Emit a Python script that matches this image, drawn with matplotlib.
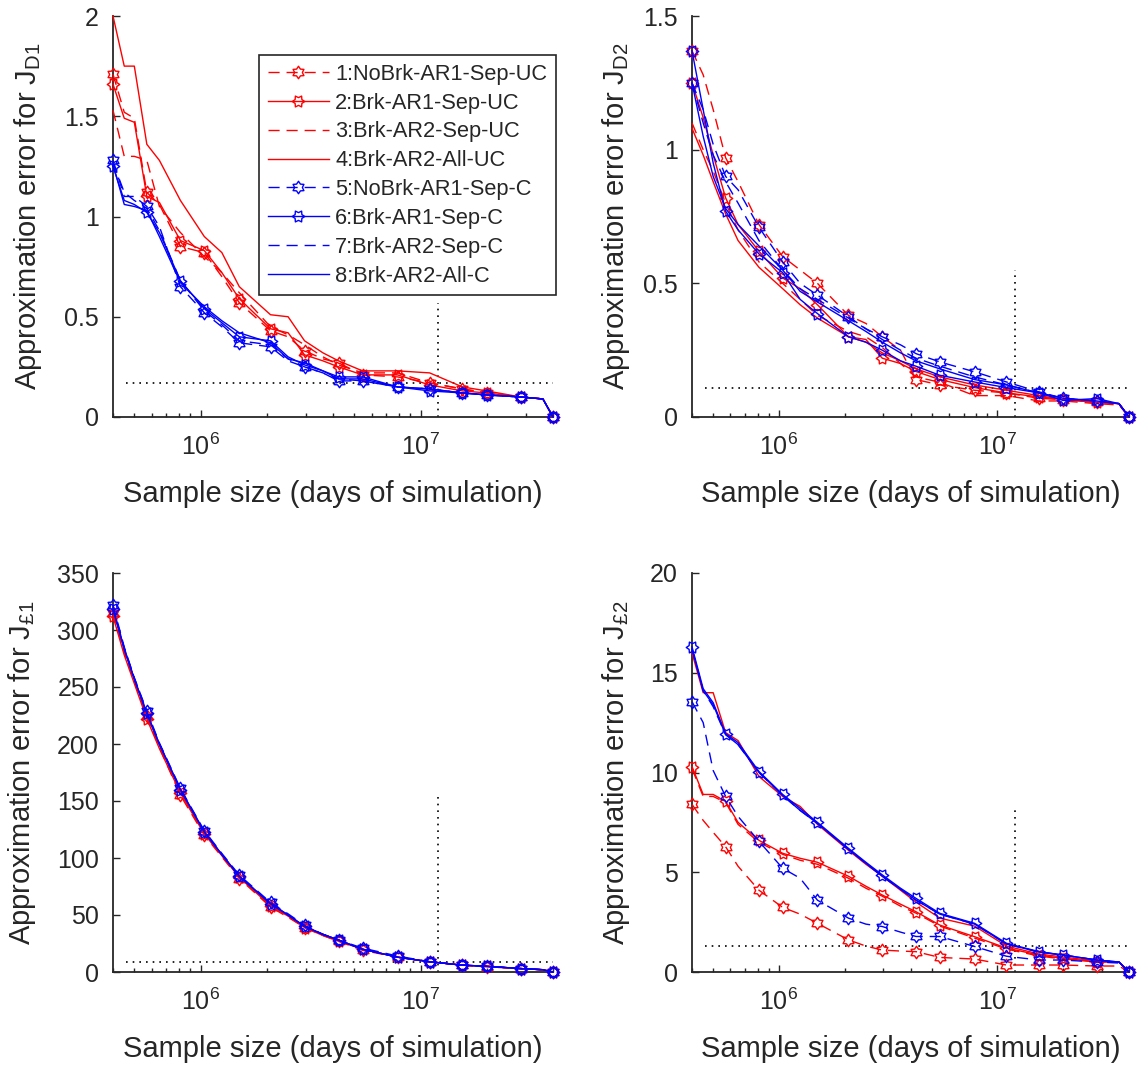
import math

import matplotlib

matplotlib.use("Agg")
import matplotlib.pyplot as plt
from matplotlib.path import Path
from matplotlib.ticker import FixedLocator, FuncFormatter, NullFormatter

plt.rcParams["font.family"] = ["Liberation Sans", "DejaVu Sans"]
plt.rcParams["mathtext.fontset"] = "custom"
plt.rcParams["mathtext.rm"] = "Liberation Sans"
plt.rcParams["mathtext.it"] = "Liberation Sans"
plt.rcParams["mathtext.default"] = "regular"

# --- data -------------------------------------------------------------------
# sample sizes (days of simulation), shared by every series
sample_days = [4.0e5, 4.5e5, 5.0e5, 5.7e5, 6.5e5, 8.1e5, 1.04e6, 1.25e6, 1.5e6, 2.08e6, 2.5e6,
               2.97e6, 3.6e6, 4.24e6, 5.45e6, 7.86e6, 1.1e7, 1.55e7, 2.0e7, 2.85e7, 3.6e7, 4.0e7]
marker_idx = [0, 3, 5, 6, 8, 9, 11, 13, 14, 15, 16, 17, 18, 19, 21]

series_names = ["1:NoBrk-AR1-Sep-UC", "2:Brk-AR1-Sep-UC", "3:Brk-AR2-Sep-UC", "4:Brk-AR2-All-UC",
                "5:NoBrk-AR1-Sep-C", "6:Brk-AR1-Sep-C", "7:Brk-AR2-Sep-C", "8:Brk-AR2-All-C"]

err_jd1 = [
    [1.71, 1.52, 1.49, 1.12, 1.06, 0.85, 0.82, 0.70, 0.57, 0.43, 0.40, 0.33, 0.29, 0.27, 0.21, 0.20, 0.17, 0.14, 0.12, 0.10, 0.09, 0],
    [1.66, 1.49, 1.47, 1.10, 1.07, 0.88, 0.83, 0.72, 0.59, 0.44, 0.42, 0.31, 0.28, 0.25, 0.21, 0.21, 0.16, 0.13, 0.12, 0.10, 0.09, 0],
    [1.53, 1.30, 1.30, 1.28, 1.05, 0.92, 0.80, 0.72, 0.62, 0.45, 0.41, 0.36, 0.30, 0.26, 0.22, 0.22, 0.17, 0.14, 0.12, 0.10, 0.09, 0],
    [2.00, 1.75, 1.75, 1.36, 1.28, 1.08, 0.90, 0.82, 0.65, 0.51, 0.50, 0.38, 0.32, 0.28, 0.23, 0.23, 0.22, 0.15, 0.13, 0.10, 0.09, 0],
    [1.28, 1.10, 1.10, 1.05, 0.95, 0.65, 0.52, 0.45, 0.37, 0.35, 0.28, 0.25, 0.22, 0.18, 0.18, 0.15, 0.14, 0.12, 0.11, 0.10, 0.09, 0],
    [1.25, 1.08, 1.06, 1.02, 0.92, 0.68, 0.54, 0.47, 0.40, 0.38, 0.30, 0.26, 0.23, 0.20, 0.20, 0.15, 0.13, 0.12, 0.11, 0.10, 0.09, 0],
    [1.27, 1.12, 1.08, 1.04, 0.93, 0.68, 0.53, 0.46, 0.38, 0.36, 0.29, 0.25, 0.22, 0.19, 0.18, 0.15, 0.14, 0.12, 0.11, 0.10, 0.09, 0],
    [1.26, 1.06, 1.05, 1.03, 0.90, 0.67, 0.55, 0.48, 0.42, 0.37, 0.29, 0.27, 0.23, 0.19, 0.19, 0.15, 0.14, 0.12, 0.11, 0.10, 0.09, 0],
]
err_jd2 = [
    [1.37, 1.28, 1.15, 0.97, 0.88, 0.72, 0.60, 0.55, 0.50, 0.38, 0.35, 0.30, 0.25, 0.14, 0.12, 0.10, 0.09, 0.07, 0.065, 0.055, 0.05, 0],
    [1.25, 1.12, 0.98, 0.82, 0.72, 0.62, 0.52, 0.48, 0.42, 0.30, 0.29, 0.22, 0.20, 0.17, 0.14, 0.11, 0.09, 0.075, 0.065, 0.055, 0.05, 0],
    [1.10, 1.00, 0.92, 0.80, 0.70, 0.58, 0.50, 0.44, 0.38, 0.32, 0.30, 0.26, 0.20, 0.15, 0.13, 0.08, 0.08, 0.06, 0.06, 0.05, 0.045, 0],
    [1.08, 0.98, 0.88, 0.76, 0.66, 0.56, 0.48, 0.42, 0.37, 0.30, 0.28, 0.24, 0.21, 0.18, 0.15, 0.12, 0.10, 0.08, 0.065, 0.055, 0.05, 0],
    [1.25, 1.15, 1.02, 0.90, 0.85, 0.71, 0.58, 0.50, 0.456, 0.375, 0.33, 0.30, 0.27, 0.237, 0.206, 0.169, 0.131, 0.094, 0.07, 0.06, 0.05, 0],
    [1.37, 1.15, 0.95, 0.77, 0.70, 0.61, 0.54, 0.44, 0.387, 0.30, 0.28, 0.25, 0.21, 0.19, 0.156, 0.131, 0.11, 0.09, 0.062, 0.069, 0.05, 0],
    [1.25, 1.10, 0.98, 0.88, 0.80, 0.66, 0.55, 0.48, 0.44, 0.37, 0.33, 0.29, 0.25, 0.22, 0.19, 0.15, 0.12, 0.09, 0.07, 0.06, 0.05, 0],
    [1.25, 1.05, 0.90, 0.78, 0.72, 0.64, 0.55, 0.47, 0.43, 0.36, 0.32, 0.28, 0.24, 0.21, 0.18, 0.14, 0.12, 0.09, 0.07, 0.06, 0.05, 0],
]
err_jl1 = [
    [315, 280, 255, 225, 197, 155, 120, 101, 82, 57, 48, 39, 32, 27, 19, 13, 9, 6, 4.5, 3, 2, 0],
    [312, 278, 253, 222, 196, 157, 121, 102, 83, 58, 49, 39, 32, 27, 20, 13, 9, 6, 5, 3, 2, 0],
    [316, 282, 256, 224, 198, 158, 122, 102, 83, 59, 49, 40, 33, 28, 20, 13, 9, 6, 5, 3, 2, 0],
    [318, 283, 257, 226, 199, 159, 122, 103, 84, 59, 50, 40, 33, 28, 20, 13, 9, 6, 5, 3, 2, 0],
    [322, 285, 258, 229, 201, 161, 124, 104, 85, 61, 51, 41, 33, 28, 21, 14, 9, 6, 5, 3, 2, 0],
    [318, 284, 257, 227, 200, 160, 123, 103, 84, 60, 50, 40, 33, 28, 20, 13, 9, 6, 5, 3, 2, 0],
    [320, 284, 258, 228, 200, 160, 123, 103, 84, 60, 50, 40, 33, 28, 20, 13, 9, 6, 5, 3, 2, 0],
    [319, 283, 257, 227, 200, 160, 123, 103, 84, 60, 50, 40, 33, 28, 20, 13, 9, 6, 5, 3, 2, 0],
]
err_jl2 = [
    [8.4, 7.6, 7.0, 6.28, 5.3, 4.1, 3.24, 2.9, 2.44, 1.61, 1.3, 1.1, 1.05, 1.02, 0.73, 0.65, 0.35, 0.35, 0.35, 0.3, 0.3, 0],
    [10.3, 8.9, 8.9, 8.55, 7.5, 6.6, 5.95, 5.7, 5.5, 4.8, 4.3, 3.86, 3.4, 3.02, 2.35, 1.77, 1.2, 0.85, 0.68, 0.52, 0.5, 0],
    [10.2, 8.8, 8.8, 8.5, 7.4, 6.5, 5.9, 5.6, 5.4, 4.7, 4.2, 3.8, 3.3, 2.95, 2.3, 1.7, 1.15, 0.8, 0.65, 0.5, 0.5, 0],
    [16.0, 14.0, 14.0, 12.0, 11.6, 9.8, 8.8, 8.3, 7.4, 6.1, 5.4, 4.8, 4.1, 3.5, 2.7, 2.3, 1.3, 0.9, 0.75, 0.55, 0.5, 0],
    [13.55, 12.5, 10.1, 8.8, 7.8, 6.55, 5.2, 4.7, 3.6, 2.7, 2.4, 2.28, 2.0, 1.78, 1.78, 1.28, 0.79, 0.6, 0.6, 0.5, 0.45, 0],
    [16.3, 14.2, 13.5, 11.95, 11.5, 10.05, 8.9, 8.2, 7.5, 6.2, 5.5, 4.87, 4.2, 3.69, 2.94, 2.44, 1.44, 1.02, 0.85, 0.60, 0.5, 0],
    [16.2, 14.1, 13.3, 11.9, 11.4, 10.0, 8.85, 8.1, 7.45, 6.15, 5.45, 4.8, 4.15, 3.6, 2.9, 2.4, 1.4, 1.0, 0.85, 0.6, 0.5, 0],
    [16.2, 14.1, 13.4, 11.9, 11.4, 10.0, 8.85, 8.1, 7.45, 6.15, 5.45, 4.8, 4.15, 3.6, 2.9, 2.4, 1.4, 1.0, 0.85, 0.6, 0.5, 0],
]

panel_data = [err_jd1, err_jd2, err_jl1, err_jl2]
ylabels = [r"Approximation error for J$_{D1}$", r"Approximation error for J$_{D2}$",
           r"Approximation error for J$_{£1}$", r"Approximation error for J$_{£2}$"]
yticks = [[0, 0.5, 1, 1.5, 2], [0, 0.5, 1, 1.5], [0, 50, 100, 150, 200, 250, 300, 350], [0, 5, 10, 15, 20]]
ylims = [2, 1.5, 350, 20]
# dotted guide lines: horizontal level, sample size of the vertical line, top of the vertical line
guide_h = [0.17, 0.11, 9, 1.3]
guide_x = [1.2e7, 1.2e7, 1.2e7, 1.2e7]
guide_vtop = [0.57, 0.55, 155, 8.1]


def hexagram(rot_deg):
    """Six-pointed star (MATLAB 'hexagram') as a closed marker path."""
    pts = []
    for i in range(12):
        a = math.radians(90 + rot_deg + 30 * i)
        r = 1.0 if i % 2 == 0 else 0.62
        pts.append((r * math.cos(a), r * math.sin(a)))
    pts.append(pts[0])
    codes = [Path.MOVETO] + [Path.LINETO] * 11 + [Path.CLOSEPOLY]
    return Path(pts, codes)


# --- styles -------------------------------------------------------------------
colors = ["red"] * 4 + ["blue"] * 4
dash = (0, (8, 5))
styles = [dash, "-", dash, "-"] * 2
markers = [hexagram(0), hexagram(90), None, None] * 2
ink = "#262626"

W, H = 1145, 1080
fig = plt.figure(figsize=(W / 100, H / 100), dpi=100)
boxes = [(113, 16, 553, 417), (692, 16, 1129, 417), (113, 573, 553, 972), (692, 573, 1129, 972)]
ylab_x = [-0.157, -0.137, -0.17, -0.137]

for p, (l, t, r, b) in enumerate(boxes):
    ax = fig.add_axes([l / W, 1 - b / H, (r - l) / W, (b - t) / H])
    for k, ys in enumerate(panel_data[p]):
        ax.plot(sample_days, ys, color=colors[k], ls=styles[k], lw=1.0,
                marker=markers[k], markevery=marker_idx if markers[k] is not None else None,
                ms=9, mfc="none", mew=1.0, clip_on=False, label=series_names[k], zorder=3)
    ax.plot([4.6e5, 4.0e7], [guide_h[p]] * 2, color="black", ls=(0, (1, 3)), lw=1.2)
    ax.plot([guide_x[p]] * 2, [0, guide_vtop[p]], color="black", ls=(0, (1, 3)), lw=1.2)

    ax.set_xscale("log")
    ax.set_xlim(4e5, 4e7)
    ax.set_ylim(0, ylims[p])
    ax.xaxis.set_major_locator(FixedLocator([1e6, 1e7]))
    ax.xaxis.set_major_formatter(FuncFormatter(lambda v, _: r"$10^{%d}$" % round(math.log10(v))))
    ax.xaxis.set_minor_locator(FixedLocator([m * 10 ** e for e in (5, 6, 7) for m in range(2, 10)
                                             if 4e5 <= m * 10 ** e <= 4e7]))
    ax.xaxis.set_minor_formatter(NullFormatter())
    ax.set_yticks(yticks[p])
    ax.yaxis.set_major_formatter(FuncFormatter(lambda v, _: "%g" % v))

    for side in ("top", "right"):
        ax.spines[side].set_visible(False)
    for side in ("left", "bottom"):
        ax.spines[side].set_color(ink)
        ax.spines[side].set_linewidth(1.3)
    ax.tick_params(which="both", direction="in", colors=ink, labelsize=18, width=1.0)
    ax.tick_params(axis="x", which="major", length=5, pad=12)
    ax.tick_params(axis="x", which="minor", length=3)
    ax.tick_params(axis="y", length=5, pad=10)

    ax.set_xlabel("Sample size (days of simulation)", fontsize=21, color=ink)
    ax.xaxis.set_label_coords(0.5, -63 / (b - t))
    ax.xaxis.label.set_va("top")
    ax.set_ylabel(ylabels[p], fontsize=21, color=ink)
    ax.yaxis.set_label_coords(ylab_x[p], 0.5)

    if p == 0:
        leg = ax.legend(loc="upper left", bbox_to_anchor=((259 - l) / (r - l), (b - 55) / (b - t)),
                        borderaxespad=0, fontsize=15.7, handlelength=2.8, handletextpad=0.3,
                        labelspacing=0.36, borderpad=0.4, fancybox=False, framealpha=1)
        leg.get_frame().set_edgecolor(ink)
        leg.get_frame().set_linewidth(1.2)
        for txt in leg.get_texts():
            txt.set_color(ink)

fig.savefig("out.png", dpi=100)
